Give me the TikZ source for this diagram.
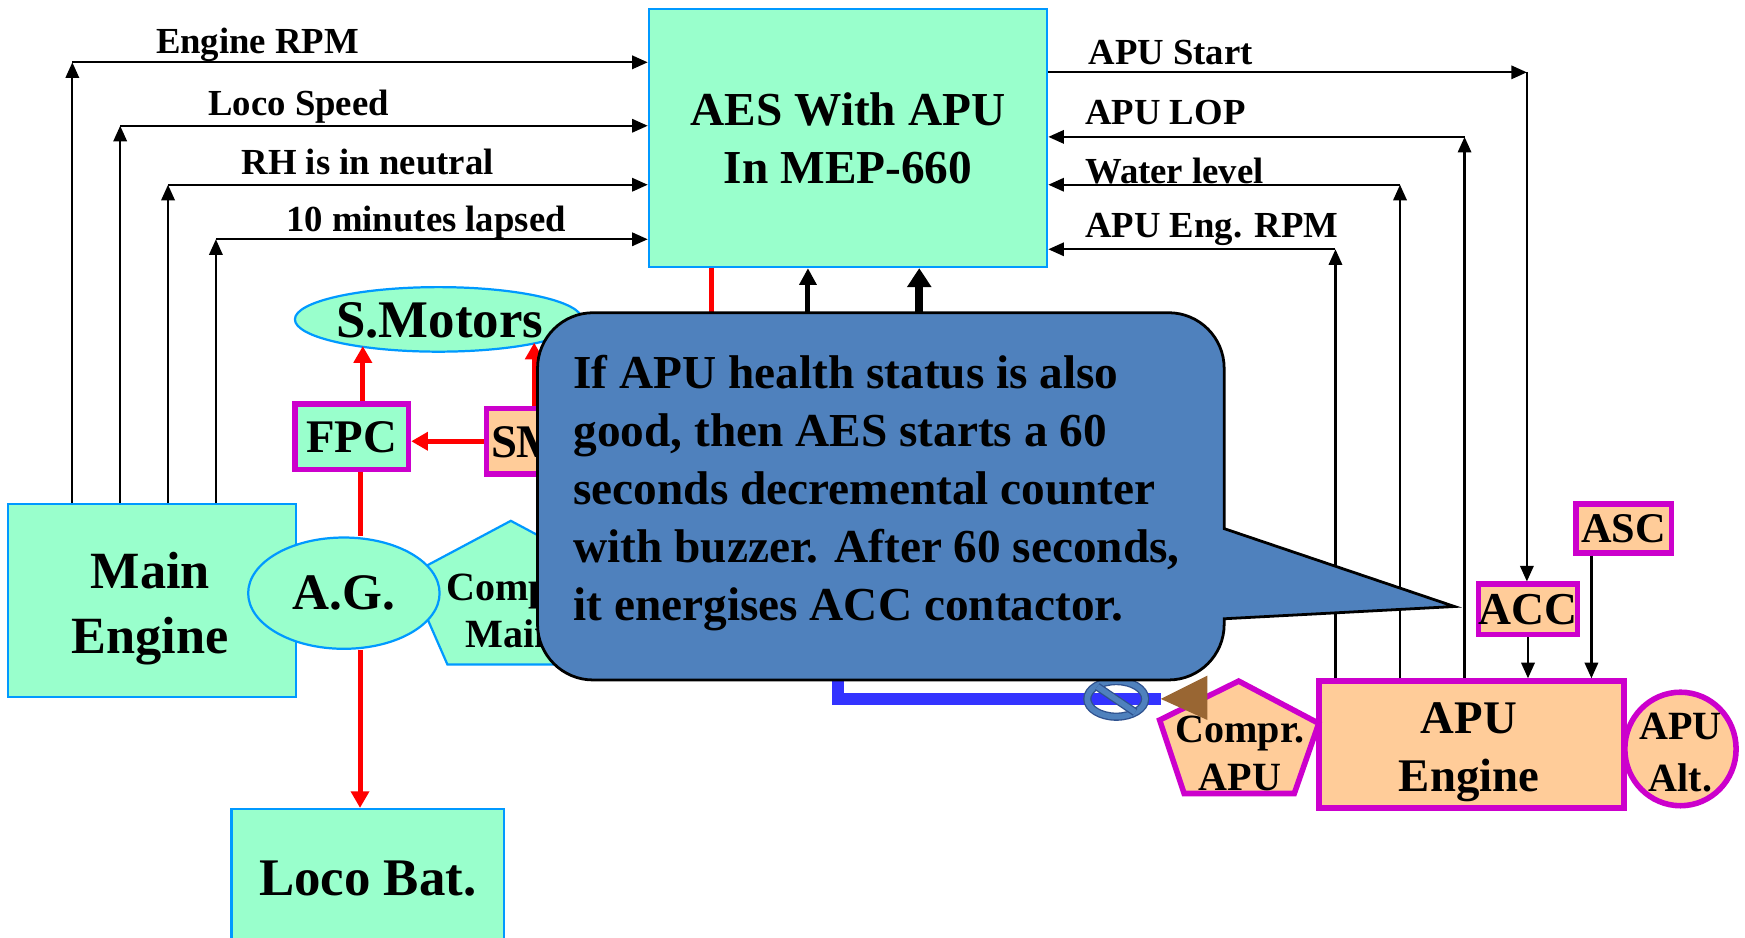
\documentclass[tikz,border=0pt]{standalone}
\usepackage{fontspec}
\setmainfont{Liberation Serif}
\usetikzlibrary{arrows.meta,shapes.geometric}
\definecolor{mint}{HTML}{99FFCC}
\definecolor{skyb}{HTML}{0099FF}
\definecolor{mag}{HTML}{CC00CC}
\definecolor{peach}{HTML}{FFCC99}
\definecolor{callblue}{HTML}{4F81BD}
\definecolor{linkblue}{HTML}{3333FF}
\definecolor{brownish}{HTML}{996633}
\definecolor{ringdark}{HTML}{2F528F}
\newcommand\fsz[2]{\fontsize{#1}{#2}\selectfont}
\begin{document}
\begin{tikzpicture}[x=1pt,y=-1pt,font=\bfseries,
  sig/.style={line width=2pt,-{Triangle[length=14pt,width=12pt]}},
  pwr/.style={draw=red,line width=4.5pt},
  pwrarr/.style={pwr,-{Triangle[length=15pt,width=16pt]}},
  gbox/.style={draw=skyb,fill=mint,line width=2pt,inner sep=0pt},
  obox/.style={draw=mag,fill=peach,line width=5pt,inner sep=0pt},
  mgbox/.style={draw=mag,fill=mint,line width=5pt,inner sep=0pt},
  lab/.style={anchor=base west,inner sep=0pt,font=\bfseries\fsz{33}{38}},
  txt/.style={inner sep=0pt,align=center},
]
\useasboundingbox (0,0) rectangle (1568,842);

% ---- left and centre blocks
\node[gbox,minimum width=358,minimum height=232] (aes) at (762,124) {};
\node[txt,font=\bfseries\fsz{42.5}{52}] (aestext) at (aes) {AES With APU\\In MEP-660};

\node[gbox,minimum width=259,minimum height=173] (me) at (136.5,539.5) {};
\node[txt,font=\bfseries\fsz{47}{58}] (metext) at (135,547) {Main\\Engine};

\draw[gbox] (459,468) -- (551,517) -- (516,597) -- (402,597) -- (367,517) -- cycle;
\node[txt,font=\bfseries\fsz{36}{43}] (cmtext) at (459,549) {Compr.\\Main};

\node[gbox,ellipse,minimum width=172,minimum height=100] (ag) at (309,533) {};
\node[txt,font=\bfseries\fsz{46}{55}] (agtext) at (ag) {A.G.};

\node[gbox,ellipse,minimum width=258,minimum height=58] (smot) at (394,287) {};
\node[txt,font=\bfseries\fsz{47.5}{55}] (smottext) at (395,288) {S.Motors};

\node[mgbox,minimum width=102,minimum height=59,font=\bfseries\fsz{42}{50}] (fpc) at (316,392.5) {FPC};
\node[obox,minimum width=93,minimum height=59] (sm) at (483.5,396.5) {};
\node[txt,anchor=west,font=\bfseries\fsz{42}{50}] (smtext) at (441,397) {SM};

\node[gbox,minimum width=245,minimum height=124,font=\bfseries\fsz{47.5}{55}] (bat) at (330.5,789) {Loco Bat.};

% ---- APU side
\node[obox,minimum width=88,minimum height=45,font=\bfseries\fsz{41}{48}] (acc) at (1373,547.5) {ACC};
\node[obox,minimum width=86,minimum height=44,font=\bfseries\fsz{38}{46}] (asc) at (1459,475) {ASC};
\node[obox,minimum width=274,minimum height=114] (ae) at (1322,669) {};
\node[txt,font=\bfseries\fsz{42}{52}] (aetext) at (1320,676) {APU\\Engine};
\draw[obox] (1113,612) -- (1185,650) -- (1163,713) -- (1064,713) -- (1042,647) -- cycle;
\node[txt,font=\bfseries\fsz{36}{44}] (catext) at (1114,677) {Compr.\\APU};
\node[obox,ellipse,minimum width=100,minimum height=102] (alt) at (1510,673) {};
\node[txt,font=\bfseries\fsz{36}{47}] (alttext) at (1510,676) {APU\\Alt.};

% ---- signal lines, left
\coordinate (l1) at (65,56);
\coordinate (l2) at (108,113);
\coordinate (l3) at (151,166);
\coordinate (l4) at (194,215);
\foreach \c in {l1,l2,l3,l4}{
  \draw[sig] (me.north -| \c) -- (\c);
  \draw[sig] (\c) -- (\c -| aes.west);
}
\node[lab] (t1) at (140,48) {Engine RPM};
\node[lab] (t2) at (187,104) {Loco Speed};
\node[lab] (t3) at (217,157) {RH is in neutral};
\node[lab] (t4) at (257,208) {10 minutes lapsed};

% ---- signal lines, right
\coordinate (r1) at (1372,65);
\draw[sig] (r1 -| aes.east) -- (r1);
\draw[sig] (r1) -- (r1 |- acc.north);
\coordinate (r2) at (1316,123);
\coordinate (r3) at (1258,166);
\coordinate (r4) at (1200,224);
\foreach \c in {r2,r3,r4}{
  \draw[sig] (ae.north -| \c) -- (\c);
  \draw[sig] (\c) -- (\c -| aes.east);
}
\draw[sig] (acc.south) -- (acc.south |- ae.north);
\coordinate (ascfoot) at ([xshift=-29pt]asc.south);
\draw[sig] (ascfoot) -- (ascfoot |- ae.north);
\node[lab] (t5) at (978,58) {APU Start};
\node[lab] (t6) at (975,112) {APU LOP};
\node[lab] (t7) at (975,165) {Water level};
\node[lab] (t8) at (975,213) {APU Eng. RPM};

% ---- power lines
\coordinate (tipA) at (326,311);
\draw[pwrarr] (fpc.north -| tipA) -- (tipA);
\coordinate (tipB) at (480,308);
\draw[pwrarr] (sm.north -| tipB) -- (tipB);
\draw[pwrarr] (sm.west) -- (sm.west -| fpc.east);
\coordinate (rx) at (323.5,0);
\draw[pwr] (fpc.south -| rx) -- (ag.north -| rx);
\draw[pwrarr] (ag.south -| rx) -- (bat.north -| rx);

% ---- lines below AES
\coordinate (c1) at (639,300);
\draw[pwr] (c1) -- (c1 |- aes.south);
\coordinate (c2) at (726,300);
\draw[line width=4.5pt,-{Triangle[length=15pt,width=15pt]}] (c2) -- (c2 |- aes.south);
\coordinate (c3) at (826,300);
\draw[line width=7pt,-{Triangle[length=17pt,width=21pt]}] (c3) -- (c3 |- aes.south);

% ---- blue link, valve symbol, brown head
\coordinate (bl) at (753,600);
\coordinate (brtip) at (1043,628);
\draw[linkblue,line width=11pt] (bl) -- (bl |- brtip) -- (brtip);
\draw[ringdark,line width=1.2pt,double=callblue,double distance=5pt] (1003,628) ellipse [x radius=26,y radius=16];
\draw[ringdark,line width=1.2pt,double=callblue,double distance=5pt] (986,617) -- (1020,640);
\fill[brownish] (brtip) -- (1085,607) -- (1085,647) -- cycle;

% ---- callout
\draw[fill=callblue,line width=2.5pt,line join=miter]
  (533,281) -- (1050,281) arc[start angle=-90,end angle=0,radius=50]
  -- (1100,475) -- (1307,545) -- (1100,556) -- (1100,561)
  arc[start angle=0,end angle=90,radius=50]
  -- (533,611) arc[start angle=90,end angle=180,radius=50]
  -- (483,331) arc[start angle=180,end angle=270,radius=50] -- cycle;
\node[anchor=north west,inner sep=0pt,align=left,font=\bfseries\fsz{42.5}{52}] (ctext) at (515,319)
  {If APU health status is also\\good, then AES starts a 60\\seconds decremental counter\\with buzzer. After 60 seconds,\\it energises ACC contactor.};
\end{tikzpicture}
\end{document}
